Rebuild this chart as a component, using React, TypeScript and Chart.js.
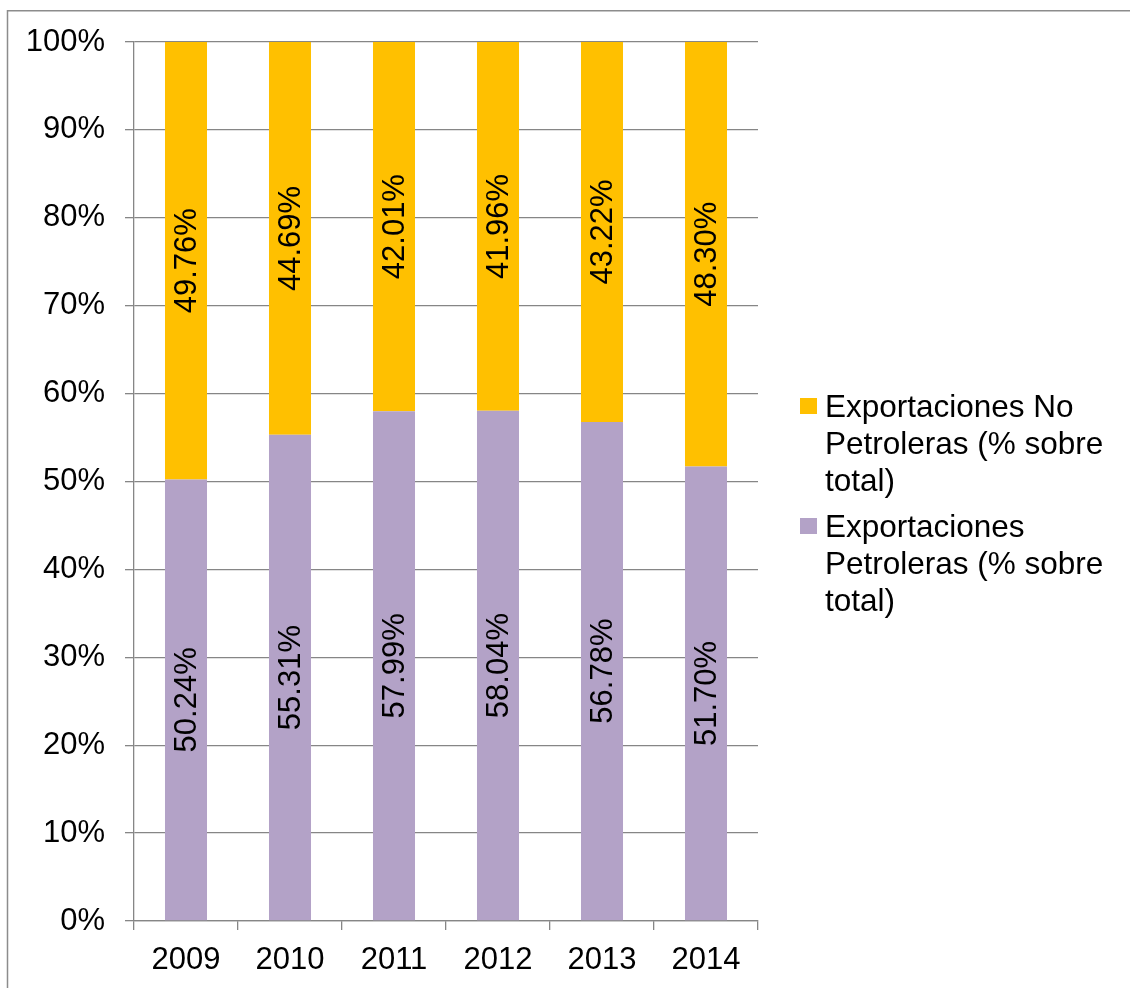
import React, { useEffect, useRef } from "react";
import { Chart, registerables } from "chart.js";

Chart.register(...registerables);

const years = ["2009", "2010", "2011", "2012", "2013", "2014"];
const petroleras = [50.24, 55.31, 57.99, 58.04, 56.78, 51.7];
const noPetroleras = [49.76, 44.69, 42.01, 41.96, 43.22, 48.3];
const seriesNames = [
  "Exportaciones Petroleras (% sobre total)",
  "Exportaciones No Petroleras (% sobre total)",
];
// legend lines, top item first (same order as the stacked bars from top)
const legendLines = [
  ["Exportaciones No", "Petroleras (% sobre", "total)"],
  ["Exportaciones", "Petroleras (% sobre", "total)"],
];

const FONT = '"Liberation Sans", Arial, sans-serif';
const GOLD = "#FFC000";
const LAVENDER = "#B3A2C7";
const GRID = "#868686";

// Frame line around the chart
const framePlugin = {
  id: "frame",
  beforeDraw(chart: any) {
    const { ctx, width, height } = chart;
    ctx.save();
    ctx.strokeStyle = "#8c8c8c";
    ctx.lineWidth = 1.5;
    ctx.beginPath();
    ctx.moveTo(7.5, height);
    ctx.lineTo(7.5, 10.75);
    ctx.lineTo(width, 10.75);
    ctx.stroke();
    ctx.restore();
  },
};

// Rotated value labels centred in each bar segment
const valueLabelPlugin = {
  id: "valueLabels",
  afterDatasetsDraw(chart: any) {
    const { ctx } = chart;
    ctx.save();
    ctx.font = `31px ${FONT}`;
    ctx.fillStyle = "#000";
    ctx.textAlign = "center";
    ctx.textBaseline = "middle";
    chart.data.datasets.forEach((ds: any, di: number) => {
      const meta = chart.getDatasetMeta(di);
      meta.data.forEach((bar: any, i: number) => {
        const v = ds.data[i] as number;
        const cy = (bar.y + bar.base) / 2;
        ctx.save();
        ctx.translate(bar.x, cy);
        ctx.rotate(-Math.PI / 2);
        ctx.fillText(v.toFixed(2) + "%", 0, 1);
        ctx.restore();
      });
    });
    ctx.restore();
  },
};

// Legend on the right with wrapped text
const sideLegendPlugin = {
  id: "sideLegend",
  afterDraw(chart: any) {
    const { ctx } = chart;
    const colors = [GOLD, LAVENDER];
    const x = 800;
    const textX = 825;
    const firstBaseline = 417;
    const lineH = 37;
    const itemGap = 9;
    ctx.save();
    ctx.font = `31.5px ${FONT}`;
    ctx.fillStyle = "#000";
    ctx.textAlign = "left";
    ctx.textBaseline = "alphabetic";
    let base = firstBaseline;
    legendLines.forEach((lines, k) => {
      ctx.fillStyle = colors[k];
      ctx.fillRect(x, base - 19, 17, 16);
      ctx.fillStyle = "#000";
      lines.forEach((ln, j) => {
        ctx.fillText(ln, textX, base + j * lineH);
      });
      base += lines.length * lineH + itemGap;
    });
    ctx.restore();
  },
};

export default function App() {
  const canvasRef = useRef<HTMLCanvasElement | null>(null);

  useEffect(() => {
    document.body.style.margin = "0";
    document.body.style.overflow = "hidden";
    const canvas = canvasRef.current;
    if (!canvas) return;
    const chart = new Chart(canvas, {
      type: "bar",
      data: {
        labels: years,
        datasets: [
          {
            label: seriesNames[0],
            data: petroleras,
            backgroundColor: LAVENDER,
            categoryPercentage: 1,
            barPercentage: 0.404,
          },
          {
            label: seriesNames[1],
            data: noPetroleras,
            backgroundColor: GOLD,
            categoryPercentage: 1,
            barPercentage: 0.404,
          },
        ],
      },
      options: {
        responsive: false,
        animation: false,
        devicePixelRatio: 1,
        layout: { padding: { left: 0, top: 42, right: 372, bottom: 0 } },
        plugins: {
          legend: { display: false },
          tooltip: { enabled: false },
        },
        scales: {
          x: {
            stacked: true,
            grid: {
              display: true,
              drawOnChartArea: false,
              drawTicks: true,
              tickLength: 9,
              color: GRID,
              lineWidth: 1.3,
              offset: true,
            },
            border: { display: true, color: GRID, width: 1.3 },
            ticks: {
              color: "#000",
              font: { family: FONT, size: 31 },
              padding: 12,
              maxRotation: 0,
            },
            afterFit(scale: any) {
              scale.height = 67;
            },
          },
          y: {
            stacked: true,
            min: 0,
            max: 100,
            grid: {
              color: GRID,
              lineWidth: 1.3,
              tickLength: 9,
              drawTicks: true,
            },
            border: { display: true, color: GRID, width: 1.3 },
            ticks: {
              stepSize: 10,
              color: "#000",
              font: { family: FONT, size: 31 },
              padding: 20,
              callback: (v: any) => `${v}%`,
            },
            afterFit(scale: any) {
              scale.width = 134;
            },
          },
        },
      },
      plugins: [framePlugin, valueLabelPlugin, sideLegendPlugin],
    });
    return () => chart.destroy();
  }, []);

  return (
    <div style={{ width: 1130, height: 988, position: "relative" }}>
      <canvas ref={canvasRef} width={1130} height={988} />
    </div>
  );
}
